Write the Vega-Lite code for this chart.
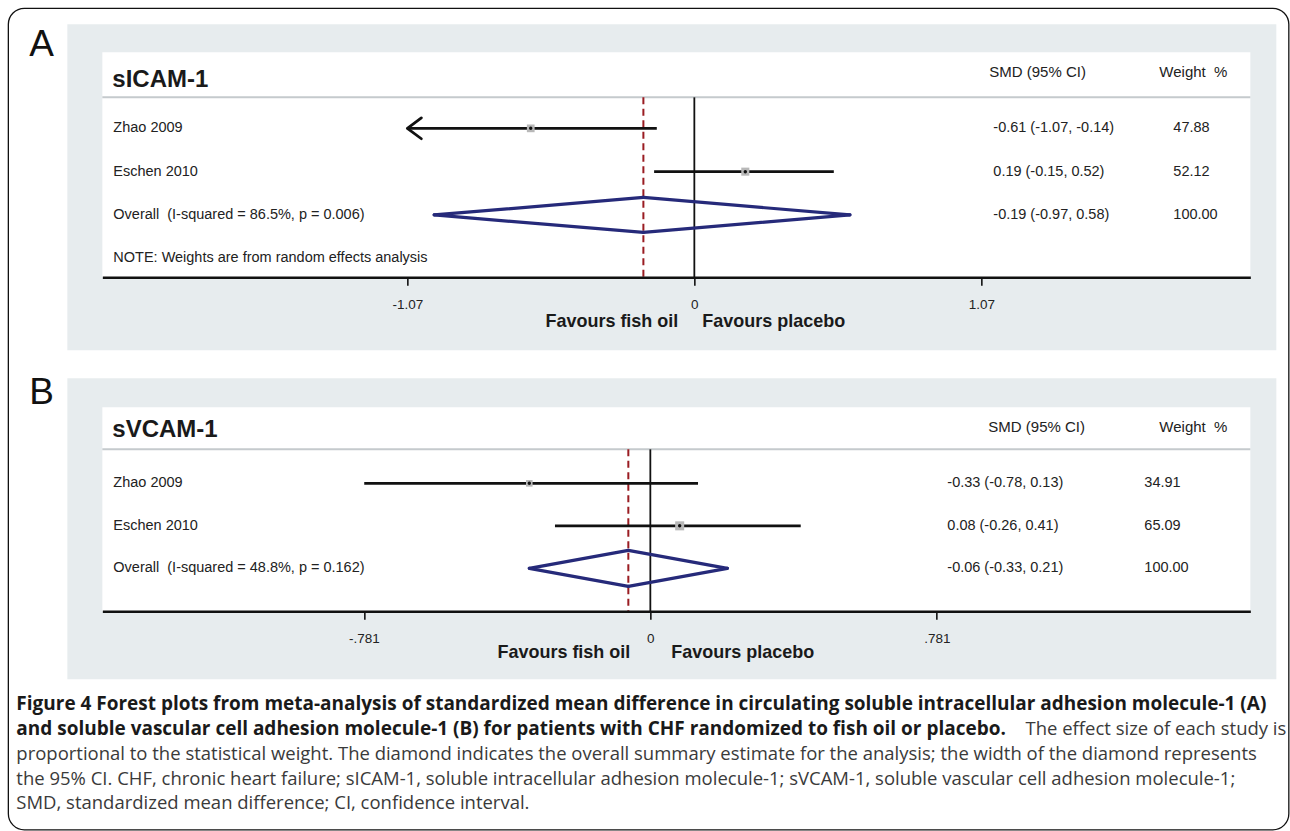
{
  "$schema": "https://vega.github.io/schema/vega-lite/v6.json",
  "background": "white",
  "padding": {"left": 7.35, "top": 7.35, "right": 0, "bottom": 0},
  "autosize": {"type": "pad"},
  "bounds": "flush",
  "spacing": 130,
  "config": {
    "view": {"stroke": null},
    "font": "Liberation Sans",
    "axis": {"labelFontSize": 13.5},
    "axisX": {"grid": false, "domainColor": "#111111", "domainWidth": 2.5, "tickColor": "#111111", "tickWidth": 1.6, "tickSize": 8, "labelFont": "Liberation Sans", "labelFontSize": 13.5, "labelColor": "#222222", "labelPadding": 12, "labelFlush": false, "labelOverlap": false}
  },
  "vconcat": [
    {
      "width": 1148,
      "height": 225,
      "data": {"values": [
        {"study": "Zhao 2009", "row": 1, "smd": -0.61, "lower": -1.07, "upper": -0.14, "weight": 47.88, "ci": "-0.61 (-1.07, -0.14)", "wt": "47.88", "kind": "study"},
        {"study": "Eschen 2010", "row": 2, "smd": 0.19, "lower": -0.15, "upper": 0.52, "weight": 52.12, "ci": "0.19 (-0.15, 0.52)", "wt": "52.12", "kind": "study"},
        {"study": "Overall\u00a0 (I-squared = 86.5%, p = 0.006)", "row": 3, "smd": -0.19, "lower": -0.97, "upper": 0.58, "weight": 100, "ci": "-0.19 (-0.97, 0.58)", "wt": "100.00", "kind": "overall"},
        {"study": "NOTE: Weights are from random effects analysis", "row": 4, "kind": "note"}
      ]},
      "layer": [
        {
          "data": {"values": [{"part": "panel"}]},
          "mark": {"type": "rect", "color": "#e7ecee"},
          "encoding": {
            "x": {"datum": -2.3378, "type": "quantitative", "scale": {"type": "linear", "domain": [-2.2073, 2.0731], "nice": false, "zero": false}, "axis": {"title": null, "values": [-1.07, 0, 1.07], "labelExpr": "datum.value < 0 ? '-1.07' : (datum.value > 0 ? '1.07' : '0')", "zindex": 1, "labelFontSize": 13.5}},
            "x2": {"datum": 2.170},
            "y": {"datum": -1.4018, "type": "quantitative", "scale": {"type": "linear", "domain": [-0.7552, 4.4411], "nice": false, "zero": false, "reverse": true}, "axis": null},
            "y2": {"datum": 6.127}
          }
        },
        {
          "data": {"values": [{"part": "plot"}]},
          "mark": {"type": "rect", "color": "#ffffff"},
          "encoding": {
            "x": {"datum": -2.2073, "type": "quantitative", "scale": {"type": "linear", "domain": [-2.2073, 2.0731], "nice": false, "zero": false}, "axis": {"title": null, "values": [-1.07, 0, 1.07], "labelExpr": "datum.value < 0 ? '-1.07' : (datum.value > 0 ? '1.07' : '0')", "zindex": 1, "labelFontSize": 13.5}},
            "x2": {"datum": 2.0731},
            "y": {"datum": -0.7552, "type": "quantitative", "scale": {"type": "linear", "domain": [-0.7552, 4.4411], "nice": false, "zero": false, "reverse": true}, "axis": null},
            "y2": {"datum": 4.4411}
          }
        },
        {
          "data": {"values": [{"part": "separator"}]},
          "mark": {"type": "rule", "color": "#c5cacd", "strokeWidth": 2},
          "encoding": {
            "x": {"datum": -2.2073, "type": "quantitative", "scale": {"type": "linear", "domain": [-2.2073, 2.0731], "nice": false, "zero": false}, "axis": {"title": null, "values": [-1.07, 0, 1.07], "labelExpr": "datum.value < 0 ? '-1.07' : (datum.value > 0 ? '1.07' : '0')", "zindex": 1, "labelFontSize": 13.5}},
            "x2": {"datum": 2.0731},
            "y": {"datum": 0.2841, "type": "quantitative", "scale": {"type": "linear", "domain": [-0.7552, 4.4411], "nice": false, "zero": false, "reverse": true}, "axis": null}
          }
        },
        {
          "data": {"values": [{"label": "A"}]},
          "mark": {"type": "text", "align": "left", "baseline": "middle", "fontSize": 37, "color": "#111111"},
          "encoding": {
            "x": {"datum": -2.4795, "type": "quantitative", "scale": {"type": "linear", "domain": [-2.2073, 2.0731], "nice": false, "zero": false}, "axis": {"title": null, "values": [-1.07, 0, 1.07], "labelExpr": "datum.value < 0 ? '-1.07' : (datum.value > 0 ? '1.07' : '0')", "zindex": 1, "labelFontSize": 13.5}},
            "y": {"datum": -0.9169, "type": "quantitative", "scale": {"type": "linear", "domain": [-0.7552, 4.4411], "nice": false, "zero": false, "reverse": true}, "axis": null},
            "text": {"field": "label"}
          }
        },
        {
          "data": {"values": [{"label": "sICAM-1"}]},
          "mark": {"type": "text", "align": "left", "baseline": "middle", "fontSize": 24, "fontWeight": "bold", "color": "#1a1a1a"},
          "encoding": {
            "x": {"datum": -2.170, "type": "quantitative", "scale": {"type": "linear", "domain": [-2.2073, 2.0731], "nice": false, "zero": false}, "axis": {"title": null, "values": [-1.07, 0, 1.07], "labelExpr": "datum.value < 0 ? '-1.07' : (datum.value > 0 ? '1.07' : '0')", "zindex": 1, "labelFontSize": 13.5}},
            "y": {"datum": -0.1085, "type": "quantitative", "scale": {"type": "linear", "domain": [-0.7552, 4.4411], "nice": false, "zero": false, "reverse": true}, "axis": null},
            "text": {"field": "label"}
          }
        },
        {
          "data": {"values": [{"label": "SMD (95% CI)"}]},
          "mark": {"type": "text", "align": "left", "baseline": "middle", "fontSize": 15, "color": "#222222"},
          "encoding": {
            "x": {"datum": 1.0999, "type": "quantitative", "scale": {"type": "linear", "domain": [-2.2073, 2.0731], "nice": false, "zero": false}, "axis": {"title": null, "values": [-1.07, 0, 1.07], "labelExpr": "datum.value < 0 ? '-1.07' : (datum.value > 0 ? '1.07' : '0')", "zindex": 1, "labelFontSize": 13.5}},
            "y": {"datum": -0.2933, "type": "quantitative", "scale": {"type": "linear", "domain": [-0.7552, 4.4411], "nice": false, "zero": false, "reverse": true}, "axis": null},
            "text": {"field": "label"}
          }
        },
        {
          "data": {"values": [{"label": "Weight\u00a0 %"}]},
          "mark": {"type": "text", "align": "left", "baseline": "middle", "fontSize": 15, "color": "#222222"},
          "encoding": {
            "x": {"datum": 1.7338, "type": "quantitative", "scale": {"type": "linear", "domain": [-2.2073, 2.0731], "nice": false, "zero": false}, "axis": {"title": null, "values": [-1.07, 0, 1.07], "labelExpr": "datum.value < 0 ? '-1.07' : (datum.value > 0 ? '1.07' : '0')", "zindex": 1, "labelFontSize": 13.5}},
            "y": {"datum": -0.2933, "type": "quantitative", "scale": {"type": "linear", "domain": [-0.7552, 4.4411], "nice": false, "zero": false, "reverse": true}, "axis": null},
            "text": {"field": "label"}
          }
        },
        {
          "data": {"values": [{"part": "null line"}]},
          "mark": {"type": "rule", "color": "#111111", "strokeWidth": 1.8},
          "encoding": {
            "x": {"datum": 0, "type": "quantitative", "scale": {"type": "linear", "domain": [-2.2073, 2.0731], "nice": false, "zero": false}, "axis": {"title": null, "values": [-1.07, 0, 1.07], "labelExpr": "datum.value < 0 ? '-1.07' : (datum.value > 0 ? '1.07' : '0')", "zindex": 1, "labelFontSize": 13.5}},
            "y": {"datum": 0.2841, "type": "quantitative", "scale": {"type": "linear", "domain": [-0.7552, 4.4411], "nice": false, "zero": false, "reverse": true}, "axis": null},
            "y2": {"datum": 4.4411}
          }
        },
        {
          "transform": [{"filter": "datum.kind == 'overall'"}],
          "mark": {"type": "rule", "color": "#9a1c22", "strokeWidth": 2, "strokeDash": [7, 4.5]},
          "encoding": {
            "x": {"field": "smd", "type": "quantitative", "scale": {"type": "linear", "domain": [-2.2073, 2.0731], "nice": false, "zero": false}, "axis": {"title": null, "values": [-1.07, 0, 1.07], "labelExpr": "datum.value < 0 ? '-1.07' : (datum.value > 0 ? '1.07' : '0')", "zindex": 1, "labelFontSize": 13.5}},
            "y": {"datum": 0.2841, "type": "quantitative", "scale": {"type": "linear", "domain": [-0.7552, 4.4411], "nice": false, "zero": false, "reverse": true}, "axis": null},
            "y2": {"datum": 4.4411}
          }
        },
        {
          "transform": [{"filter": "datum.kind == 'study'"}],
          "mark": {"type": "rule", "color": "#111111", "strokeWidth": 2.8},
          "encoding": {
            "x": {"field": "lower", "type": "quantitative", "scale": {"type": "linear", "domain": [-2.2073, 2.0731], "nice": false, "zero": false}, "axis": {"title": null, "values": [-1.07, 0, 1.07], "labelExpr": "datum.value < 0 ? '-1.07' : (datum.value > 0 ? '1.07' : '0')", "zindex": 1, "labelFontSize": 13.5}},
            "x2": {"field": "upper"},
            "y": {"field": "row", "type": "quantitative", "scale": {"type": "linear", "domain": [-0.7552, 4.4411], "nice": false, "zero": false, "reverse": true}, "axis": null}
          }
        },
        {
          "transform": [{"filter": "datum.kind == 'study' && datum.lower <= -1.07"}],
          "mark": {"type": "point", "shape": "M0,0L1.75,-1.3M0,0L1.75,1.3", "size": 256, "filled": false, "color": "#111111", "strokeWidth": 2.8, "strokeCap": "round", "opacity": 1},
          "encoding": {
            "x": {"field": "lower", "type": "quantitative", "scale": {"type": "linear", "domain": [-2.2073, 2.0731], "nice": false, "zero": false}, "axis": {"title": null, "values": [-1.07, 0, 1.07], "labelExpr": "datum.value < 0 ? '-1.07' : (datum.value > 0 ? '1.07' : '0')", "zindex": 1, "labelFontSize": 13.5}},
            "y": {"field": "row", "type": "quantitative", "scale": {"type": "linear", "domain": [-0.7552, 4.4411], "nice": false, "zero": false, "reverse": true}, "axis": null}
          }
        },
        {
          "transform": [{"filter": "datum.kind == 'study'"}],
          "mark": {"type": "point", "shape": "square", "filled": true, "color": "#b8b8b8", "opacity": 1},
          "encoding": {
            "x": {"field": "smd", "type": "quantitative", "scale": {"type": "linear", "domain": [-2.2073, 2.0731], "nice": false, "zero": false}, "axis": {"title": null, "values": [-1.07, 0, 1.07], "labelExpr": "datum.value < 0 ? '-1.07' : (datum.value > 0 ? '1.07' : '0')", "zindex": 1, "labelFontSize": 13.5}},
            "y": {"field": "row", "type": "quantitative", "scale": {"type": "linear", "domain": [-0.7552, 4.4411], "nice": false, "zero": false, "reverse": true}, "axis": null},
            "size": {"field": "weight", "type": "quantitative", "scale": {"domain": [0, 100], "range": [0, 125]}, "legend": null}
          }
        },
        {
          "transform": [{"filter": "datum.kind == 'study'"}],
          "mark": {"type": "point", "shape": "circle", "filled": true, "color": "#111111", "size": 12, "opacity": 1},
          "encoding": {
            "x": {"field": "smd", "type": "quantitative", "scale": {"type": "linear", "domain": [-2.2073, 2.0731], "nice": false, "zero": false}, "axis": {"title": null, "values": [-1.07, 0, 1.07], "labelExpr": "datum.value < 0 ? '-1.07' : (datum.value > 0 ? '1.07' : '0')", "zindex": 1, "labelFontSize": 13.5}},
            "y": {"field": "row", "type": "quantitative", "scale": {"type": "linear", "domain": [-0.7552, 4.4411], "nice": false, "zero": false, "reverse": true}, "axis": null}
          }
        },
        {
          "transform": [{"filter": "datum.kind == 'overall'"}],
          "mark": {"type": "rule", "color": "#262a7a", "strokeWidth": 3.2, "strokeCap": "round", "y2Offset": -17.5},
          "encoding": {
            "x": {"field": "lower", "type": "quantitative", "scale": {"type": "linear", "domain": [-2.2073, 2.0731], "nice": false, "zero": false}, "axis": {"title": null, "values": [-1.07, 0, 1.07], "labelExpr": "datum.value < 0 ? '-1.07' : (datum.value > 0 ? '1.07' : '0')", "zindex": 1, "labelFontSize": 13.5}},
            "x2": {"field": "smd"},
            "y": {"field": "row", "type": "quantitative", "scale": {"type": "linear", "domain": [-0.7552, 4.4411], "nice": false, "zero": false, "reverse": true}, "axis": null},
            "y2": {"field": "row"}
          }
        },
        {
          "transform": [{"filter": "datum.kind == 'overall'"}],
          "mark": {"type": "rule", "color": "#262a7a", "strokeWidth": 3.2, "strokeCap": "round", "yOffset": -17.5},
          "encoding": {
            "x": {"field": "smd", "type": "quantitative", "scale": {"type": "linear", "domain": [-2.2073, 2.0731], "nice": false, "zero": false}, "axis": {"title": null, "values": [-1.07, 0, 1.07], "labelExpr": "datum.value < 0 ? '-1.07' : (datum.value > 0 ? '1.07' : '0')", "zindex": 1, "labelFontSize": 13.5}},
            "x2": {"field": "upper"},
            "y": {"field": "row", "type": "quantitative", "scale": {"type": "linear", "domain": [-0.7552, 4.4411], "nice": false, "zero": false, "reverse": true}, "axis": null},
            "y2": {"field": "row"}
          }
        },
        {
          "transform": [{"filter": "datum.kind == 'overall'"}],
          "mark": {"type": "rule", "color": "#262a7a", "strokeWidth": 3.2, "strokeCap": "round", "y2Offset": 17.5},
          "encoding": {
            "x": {"field": "lower", "type": "quantitative", "scale": {"type": "linear", "domain": [-2.2073, 2.0731], "nice": false, "zero": false}, "axis": {"title": null, "values": [-1.07, 0, 1.07], "labelExpr": "datum.value < 0 ? '-1.07' : (datum.value > 0 ? '1.07' : '0')", "zindex": 1, "labelFontSize": 13.5}},
            "x2": {"field": "smd"},
            "y": {"field": "row", "type": "quantitative", "scale": {"type": "linear", "domain": [-0.7552, 4.4411], "nice": false, "zero": false, "reverse": true}, "axis": null},
            "y2": {"field": "row"}
          }
        },
        {
          "transform": [{"filter": "datum.kind == 'overall'"}],
          "mark": {"type": "rule", "color": "#262a7a", "strokeWidth": 3.2, "strokeCap": "round", "yOffset": 17.5},
          "encoding": {
            "x": {"field": "smd", "type": "quantitative", "scale": {"type": "linear", "domain": [-2.2073, 2.0731], "nice": false, "zero": false}, "axis": {"title": null, "values": [-1.07, 0, 1.07], "labelExpr": "datum.value < 0 ? '-1.07' : (datum.value > 0 ? '1.07' : '0')", "zindex": 1, "labelFontSize": 13.5}},
            "x2": {"field": "upper"},
            "y": {"field": "row", "type": "quantitative", "scale": {"type": "linear", "domain": [-0.7552, 4.4411], "nice": false, "zero": false, "reverse": true}, "axis": null},
            "y2": {"field": "row"}
          }
        },
        {
          "mark": {"type": "text", "align": "left", "baseline": "middle", "fontSize": 14.5, "color": "#222222"},
          "encoding": {
            "x": {"datum": -2.1663, "type": "quantitative", "scale": {"type": "linear", "domain": [-2.2073, 2.0731], "nice": false, "zero": false}, "axis": {"title": null, "values": [-1.07, 0, 1.07], "labelExpr": "datum.value < 0 ? '-1.07' : (datum.value > 0 ? '1.07' : '0')", "zindex": 1, "labelFontSize": 13.5}},
            "y": {"field": "row", "type": "quantitative", "scale": {"type": "linear", "domain": [-0.7552, 4.4411], "nice": false, "zero": false, "reverse": true}, "axis": null},
            "text": {"field": "study"}
          }
        },
        {
          "transform": [{"filter": "datum.kind != 'note'"}],
          "mark": {"type": "text", "align": "left", "baseline": "middle", "fontSize": 14.5, "color": "#222222"},
          "encoding": {
            "x": {"datum": 1.1148, "type": "quantitative", "scale": {"type": "linear", "domain": [-2.2073, 2.0731], "nice": false, "zero": false}, "axis": {"title": null, "values": [-1.07, 0, 1.07], "labelExpr": "datum.value < 0 ? '-1.07' : (datum.value > 0 ? '1.07' : '0')", "zindex": 1, "labelFontSize": 13.5}},
            "y": {"field": "row", "type": "quantitative", "scale": {"type": "linear", "domain": [-0.7552, 4.4411], "nice": false, "zero": false, "reverse": true}, "axis": null},
            "text": {"field": "ci"}
          }
        },
        {
          "transform": [{"filter": "datum.kind != 'note'"}],
          "mark": {"type": "text", "align": "left", "baseline": "middle", "fontSize": 14.5, "color": "#222222"},
          "encoding": {
            "x": {"datum": 1.786, "type": "quantitative", "scale": {"type": "linear", "domain": [-2.2073, 2.0731], "nice": false, "zero": false}, "axis": {"title": null, "values": [-1.07, 0, 1.07], "labelExpr": "datum.value < 0 ? '-1.07' : (datum.value > 0 ? '1.07' : '0')", "zindex": 1, "labelFontSize": 13.5}},
            "y": {"field": "row", "type": "quantitative", "scale": {"type": "linear", "domain": [-0.7552, 4.4411], "nice": false, "zero": false, "reverse": true}, "axis": null},
            "text": {"field": "wt"}
          }
        },
        {
          "data": {"values": [{"label": "Favours fish oil"}]},
          "mark": {"type": "text", "align": "right", "baseline": "middle", "fontSize": 18, "fontWeight": "bold", "color": "#1a1a1a", "dx": -16},
          "encoding": {
            "x": {"datum": 0, "type": "quantitative", "scale": {"type": "linear", "domain": [-2.2073, 2.0731], "nice": false, "zero": false}, "axis": {"title": null, "values": [-1.07, 0, 1.07], "labelExpr": "datum.value < 0 ? '-1.07' : (datum.value > 0 ? '1.07' : '0')", "zindex": 1, "labelFontSize": 13.5}},
            "y": {"datum": 5.4804, "type": "quantitative", "scale": {"type": "linear", "domain": [-0.7552, 4.4411], "nice": false, "zero": false, "reverse": true}, "axis": null},
            "text": {"field": "label"}
          }
        },
        {
          "data": {"values": [{"label": "Favours placebo"}]},
          "mark": {"type": "text", "align": "left", "baseline": "middle", "fontSize": 18, "fontWeight": "bold", "color": "#1a1a1a", "dx": 8},
          "encoding": {
            "x": {"datum": 0, "type": "quantitative", "scale": {"type": "linear", "domain": [-2.2073, 2.0731], "nice": false, "zero": false}, "axis": {"title": null, "values": [-1.07, 0, 1.07], "labelExpr": "datum.value < 0 ? '-1.07' : (datum.value > 0 ? '1.07' : '0')", "zindex": 1, "labelFontSize": 13.5}},
            "y": {"datum": 5.4804, "type": "quantitative", "scale": {"type": "linear", "domain": [-0.7552, 4.4411], "nice": false, "zero": false, "reverse": true}, "axis": null},
            "text": {"field": "label"}
          }
        },
        {
          "data": {"values": [{"part": "frame"}]},
          "mark": {"type": "rect", "filled": false, "color": "#111111", "strokeWidth": 1.3, "cornerRadius": 16},
          "encoding": {
            "x": {"datum": -2.5578, "type": "quantitative", "scale": {"type": "linear", "domain": [-2.2073, 2.0731], "nice": false, "zero": false}, "axis": {"title": null, "values": [-1.07, 0, 1.07], "labelExpr": "datum.value < 0 ? '-1.07' : (datum.value > 0 ? '1.07' : '0')", "zindex": 1, "labelFontSize": 13.5}},
            "x2": {"datum": 2.2166},
            "y": {"datum": -1.7714, "type": "quantitative", "scale": {"type": "linear", "domain": [-0.7552, 4.4411], "nice": false, "zero": false, "reverse": true}, "axis": null},
            "y2": {"datum": 17.2009}
          }
        }
      ]
    },
    {
      "width": 1148,
      "height": 204,
      "data": {"values": [
        {"study": "Zhao 2009", "row": 1, "smd": -0.33, "lower": -0.78, "upper": 0.13, "weight": 34.91, "ci": "-0.33 (-0.78, 0.13)", "wt": "34.91", "kind": "study"},
        {"study": "Eschen 2010", "row": 2, "smd": 0.08, "lower": -0.26, "upper": 0.41, "weight": 65.09, "ci": "0.08 (-0.26, 0.41)", "wt": "65.09", "kind": "study"},
        {"study": "Overall\u00a0 (I-squared = 48.8%, p = 0.162)", "row": 3, "smd": -0.06, "lower": -0.33, "upper": 0.21, "weight": 100, "ci": "-0.06 (-0.33, 0.21)", "wt": "100.00", "kind": "overall"}
      ]},
      "layer": [
        {
          "data": {"values": [{"part": "panel"}]},
          "mark": {"type": "rect", "color": "#e7ecee"},
          "encoding": {
            "x": {"datum": -1.5894, "type": "quantitative", "scale": {"type": "linear", "domain": [-1.494, 1.6358], "nice": false, "zero": false}, "axis": {"title": null, "values": [-0.781, 0, 0.781], "labelExpr": "datum.value < 0 ? '-.781' : (datum.value > 0 ? '.781' : '0')", "zindex": 1, "labelFontSize": 13.5}},
            "x2": {"datum": 1.7067},
            "y": {"datum": -1.4706, "type": "quantitative", "scale": {"type": "linear", "domain": [-0.788, 4.012], "nice": false, "zero": false, "reverse": true}, "axis": null},
            "y2": {"datum": 5.6118}
          }
        },
        {
          "data": {"values": [{"part": "plot"}]},
          "mark": {"type": "rect", "color": "#ffffff"},
          "encoding": {
            "x": {"datum": -1.494, "type": "quantitative", "scale": {"type": "linear", "domain": [-1.494, 1.6358], "nice": false, "zero": false}, "axis": {"title": null, "values": [-0.781, 0, 0.781], "labelExpr": "datum.value < 0 ? '-.781' : (datum.value > 0 ? '.781' : '0')", "zindex": 1, "labelFontSize": 13.5}},
            "x2": {"datum": 1.6358},
            "y": {"datum": -0.788, "type": "quantitative", "scale": {"type": "linear", "domain": [-0.788, 4.012], "nice": false, "zero": false, "reverse": true}, "axis": null},
            "y2": {"datum": 4.012}
          }
        },
        {
          "data": {"values": [{"part": "separator"}]},
          "mark": {"type": "rule", "color": "#c5cacd", "strokeWidth": 2},
          "encoding": {
            "x": {"datum": -1.494, "type": "quantitative", "scale": {"type": "linear", "domain": [-1.494, 1.6358], "nice": false, "zero": false}, "axis": {"title": null, "values": [-0.781, 0, 0.781], "labelExpr": "datum.value < 0 ? '-.781' : (datum.value > 0 ? '.781' : '0')", "zindex": 1, "labelFontSize": 13.5}},
            "x2": {"datum": 1.6358},
            "y": {"datum": 0.2, "type": "quantitative", "scale": {"type": "linear", "domain": [-0.788, 4.012], "nice": false, "zero": false, "reverse": true}, "axis": null}
          }
        },
        {
          "data": {"values": [{"label": "B"}]},
          "mark": {"type": "text", "align": "left", "baseline": "middle", "fontSize": 37, "color": "#111111"},
          "encoding": {
            "x": {"datum": -1.693, "type": "quantitative", "scale": {"type": "linear", "domain": [-1.494, 1.6358], "nice": false, "zero": false}, "axis": {"title": null, "values": [-0.781, 0, 0.781], "labelExpr": "datum.value < 0 ? '-.781' : (datum.value > 0 ? '.781' : '0')", "zindex": 1, "labelFontSize": 13.5}},
            "y": {"datum": -1.1176, "type": "quantitative", "scale": {"type": "linear", "domain": [-0.788, 4.012], "nice": false, "zero": false, "reverse": true}, "axis": null},
            "text": {"field": "label"}
          }
        },
        {
          "data": {"values": [{"label": "sVCAM-1"}]},
          "mark": {"type": "text", "align": "left", "baseline": "middle", "fontSize": 24, "fontWeight": "bold", "color": "#1a1a1a"},
          "encoding": {
            "x": {"datum": -1.4667, "type": "quantitative", "scale": {"type": "linear", "domain": [-1.494, 1.6358], "nice": false, "zero": false}, "axis": {"title": null, "values": [-0.781, 0, 0.781], "labelExpr": "datum.value < 0 ? '-.781' : (datum.value > 0 ? '.781' : '0')", "zindex": 1, "labelFontSize": 13.5}},
            "y": {"datum": -0.2471, "type": "quantitative", "scale": {"type": "linear", "domain": [-0.788, 4.012], "nice": false, "zero": false, "reverse": true}, "axis": null},
            "text": {"field": "label"}
          }
        },
        {
          "data": {"values": [{"label": "SMD (95% CI)"}]},
          "mark": {"type": "text", "align": "left", "baseline": "middle", "fontSize": 15, "color": "#222222"},
          "encoding": {
            "x": {"datum": 0.9215, "type": "quantitative", "scale": {"type": "linear", "domain": [-1.494, 1.6358], "nice": false, "zero": false}, "axis": {"title": null, "values": [-0.781, 0, 0.781], "labelExpr": "datum.value < 0 ? '-.781' : (datum.value > 0 ? '.781' : '0')", "zindex": 1, "labelFontSize": 13.5}},
            "y": {"datum": -0.3176, "type": "quantitative", "scale": {"type": "linear", "domain": [-0.788, 4.012], "nice": false, "zero": false, "reverse": true}, "axis": null},
            "text": {"field": "label"}
          }
        },
        {
          "data": {"values": [{"label": "Weight\u00a0 %"}]},
          "mark": {"type": "text", "align": "left", "baseline": "middle", "fontSize": 15, "color": "#222222"},
          "encoding": {
            "x": {"datum": 1.3877, "type": "quantitative", "scale": {"type": "linear", "domain": [-1.494, 1.6358], "nice": false, "zero": false}, "axis": {"title": null, "values": [-0.781, 0, 0.781], "labelExpr": "datum.value < 0 ? '-.781' : (datum.value > 0 ? '.781' : '0')", "zindex": 1, "labelFontSize": 13.5}},
            "y": {"datum": -0.3176, "type": "quantitative", "scale": {"type": "linear", "domain": [-0.788, 4.012], "nice": false, "zero": false, "reverse": true}, "axis": null},
            "text": {"field": "label"}
          }
        },
        {
          "data": {"values": [{"part": "null line"}]},
          "mark": {"type": "rule", "color": "#111111", "strokeWidth": 1.8},
          "encoding": {
            "x": {"datum": 0, "type": "quantitative", "scale": {"type": "linear", "domain": [-1.494, 1.6358], "nice": false, "zero": false}, "axis": {"title": null, "values": [-0.781, 0, 0.781], "labelExpr": "datum.value < 0 ? '-.781' : (datum.value > 0 ? '.781' : '0')", "zindex": 1, "labelFontSize": 13.5}},
            "y": {"datum": 0.2, "type": "quantitative", "scale": {"type": "linear", "domain": [-0.788, 4.012], "nice": false, "zero": false, "reverse": true}, "axis": null},
            "y2": {"datum": 4.012}
          }
        },
        {
          "transform": [{"filter": "datum.kind == 'overall'"}],
          "mark": {"type": "rule", "color": "#9a1c22", "strokeWidth": 2, "strokeDash": [7, 4.5]},
          "encoding": {
            "x": {"field": "smd", "type": "quantitative", "scale": {"type": "linear", "domain": [-1.494, 1.6358], "nice": false, "zero": false}, "axis": {"title": null, "values": [-0.781, 0, 0.781], "labelExpr": "datum.value < 0 ? '-.781' : (datum.value > 0 ? '.781' : '0')", "zindex": 1, "labelFontSize": 13.5}},
            "y": {"datum": 0.2, "type": "quantitative", "scale": {"type": "linear", "domain": [-0.788, 4.012], "nice": false, "zero": false, "reverse": true}, "axis": null},
            "y2": {"datum": 4.012}
          }
        },
        {
          "transform": [{"filter": "datum.kind == 'study'"}],
          "mark": {"type": "rule", "color": "#111111", "strokeWidth": 2.8},
          "encoding": {
            "x": {"field": "lower", "type": "quantitative", "scale": {"type": "linear", "domain": [-1.494, 1.6358], "nice": false, "zero": false}, "axis": {"title": null, "values": [-0.781, 0, 0.781], "labelExpr": "datum.value < 0 ? '-.781' : (datum.value > 0 ? '.781' : '0')", "zindex": 1, "labelFontSize": 13.5}},
            "x2": {"field": "upper"},
            "y": {"field": "row", "type": "quantitative", "scale": {"type": "linear", "domain": [-0.788, 4.012], "nice": false, "zero": false, "reverse": true}, "axis": null}
          }
        },
        {
          "transform": [{"filter": "datum.kind == 'study'"}],
          "mark": {"type": "point", "shape": "square", "filled": true, "color": "#b8b8b8", "opacity": 1},
          "encoding": {
            "x": {"field": "smd", "type": "quantitative", "scale": {"type": "linear", "domain": [-1.494, 1.6358], "nice": false, "zero": false}, "axis": {"title": null, "values": [-0.781, 0, 0.781], "labelExpr": "datum.value < 0 ? '-.781' : (datum.value > 0 ? '.781' : '0')", "zindex": 1, "labelFontSize": 13.5}},
            "y": {"field": "row", "type": "quantitative", "scale": {"type": "linear", "domain": [-0.788, 4.012], "nice": false, "zero": false, "reverse": true}, "axis": null},
            "size": {"field": "weight", "type": "quantitative", "scale": {"domain": [0, 100], "range": [0, 190]}, "legend": null}
          }
        },
        {
          "transform": [{"filter": "datum.kind == 'study'"}],
          "mark": {"type": "point", "shape": "circle", "filled": true, "color": "#111111", "size": 12, "opacity": 1},
          "encoding": {
            "x": {"field": "smd", "type": "quantitative", "scale": {"type": "linear", "domain": [-1.494, 1.6358], "nice": false, "zero": false}, "axis": {"title": null, "values": [-0.781, 0, 0.781], "labelExpr": "datum.value < 0 ? '-.781' : (datum.value > 0 ? '.781' : '0')", "zindex": 1, "labelFontSize": 13.5}},
            "y": {"field": "row", "type": "quantitative", "scale": {"type": "linear", "domain": [-0.788, 4.012], "nice": false, "zero": false, "reverse": true}, "axis": null}
          }
        },
        {
          "transform": [{"filter": "datum.kind == 'overall'"}],
          "mark": {"type": "rule", "color": "#262a7a", "strokeWidth": 3.2, "strokeCap": "round", "y2Offset": -18},
          "encoding": {
            "x": {"field": "lower", "type": "quantitative", "scale": {"type": "linear", "domain": [-1.494, 1.6358], "nice": false, "zero": false}, "axis": {"title": null, "values": [-0.781, 0, 0.781], "labelExpr": "datum.value < 0 ? '-.781' : (datum.value > 0 ? '.781' : '0')", "zindex": 1, "labelFontSize": 13.5}},
            "x2": {"field": "smd"},
            "y": {"field": "row", "type": "quantitative", "scale": {"type": "linear", "domain": [-0.788, 4.012], "nice": false, "zero": false, "reverse": true}, "axis": null},
            "y2": {"field": "row"}
          }
        },
        {
          "transform": [{"filter": "datum.kind == 'overall'"}],
          "mark": {"type": "rule", "color": "#262a7a", "strokeWidth": 3.2, "strokeCap": "round", "yOffset": -18},
          "encoding": {
            "x": {"field": "smd", "type": "quantitative", "scale": {"type": "linear", "domain": [-1.494, 1.6358], "nice": false, "zero": false}, "axis": {"title": null, "values": [-0.781, 0, 0.781], "labelExpr": "datum.value < 0 ? '-.781' : (datum.value > 0 ? '.781' : '0')", "zindex": 1, "labelFontSize": 13.5}},
            "x2": {"field": "upper"},
            "y": {"field": "row", "type": "quantitative", "scale": {"type": "linear", "domain": [-0.788, 4.012], "nice": false, "zero": false, "reverse": true}, "axis": null},
            "y2": {"field": "row"}
          }
        },
        {
          "transform": [{"filter": "datum.kind == 'overall'"}],
          "mark": {"type": "rule", "color": "#262a7a", "strokeWidth": 3.2, "strokeCap": "round", "y2Offset": 18},
          "encoding": {
            "x": {"field": "lower", "type": "quantitative", "scale": {"type": "linear", "domain": [-1.494, 1.6358], "nice": false, "zero": false}, "axis": {"title": null, "values": [-0.781, 0, 0.781], "labelExpr": "datum.value < 0 ? '-.781' : (datum.value > 0 ? '.781' : '0')", "zindex": 1, "labelFontSize": 13.5}},
            "x2": {"field": "smd"},
            "y": {"field": "row", "type": "quantitative", "scale": {"type": "linear", "domain": [-0.788, 4.012], "nice": false, "zero": false, "reverse": true}, "axis": null},
            "y2": {"field": "row"}
          }
        },
        {
          "transform": [{"filter": "datum.kind == 'overall'"}],
          "mark": {"type": "rule", "color": "#262a7a", "strokeWidth": 3.2, "strokeCap": "round", "yOffset": 18},
          "encoding": {
            "x": {"field": "smd", "type": "quantitative", "scale": {"type": "linear", "domain": [-1.494, 1.6358], "nice": false, "zero": false}, "axis": {"title": null, "values": [-0.781, 0, 0.781], "labelExpr": "datum.value < 0 ? '-.781' : (datum.value > 0 ? '.781' : '0')", "zindex": 1, "labelFontSize": 13.5}},
            "x2": {"field": "upper"},
            "y": {"field": "row", "type": "quantitative", "scale": {"type": "linear", "domain": [-0.788, 4.012], "nice": false, "zero": false, "reverse": true}, "axis": null},
            "y2": {"field": "row"}
          }
        },
        {
          "mark": {"type": "text", "align": "left", "baseline": "middle", "fontSize": 14.5, "color": "#222222"},
          "encoding": {
            "x": {"datum": -1.464, "type": "quantitative", "scale": {"type": "linear", "domain": [-1.494, 1.6358], "nice": false, "zero": false}, "axis": {"title": null, "values": [-0.781, 0, 0.781], "labelExpr": "datum.value < 0 ? '-.781' : (datum.value > 0 ? '.781' : '0')", "zindex": 1, "labelFontSize": 13.5}},
            "y": {"field": "row", "type": "quantitative", "scale": {"type": "linear", "domain": [-0.788, 4.012], "nice": false, "zero": false, "reverse": true}, "axis": null},
            "text": {"field": "study"}
          }
        },
        {
          "mark": {"type": "text", "align": "left", "baseline": "middle", "fontSize": 14.5, "color": "#222222"},
          "encoding": {
            "x": {"datum": 0.8097, "type": "quantitative", "scale": {"type": "linear", "domain": [-1.494, 1.6358], "nice": false, "zero": false}, "axis": {"title": null, "values": [-0.781, 0, 0.781], "labelExpr": "datum.value < 0 ? '-.781' : (datum.value > 0 ? '.781' : '0')", "zindex": 1, "labelFontSize": 13.5}},
            "y": {"field": "row", "type": "quantitative", "scale": {"type": "linear", "domain": [-0.788, 4.012], "nice": false, "zero": false, "reverse": true}, "axis": null},
            "text": {"field": "ci"}
          }
        },
        {
          "mark": {"type": "text", "align": "left", "baseline": "middle", "fontSize": 14.5, "color": "#222222"},
          "encoding": {
            "x": {"datum": 1.3468, "type": "quantitative", "scale": {"type": "linear", "domain": [-1.494, 1.6358], "nice": false, "zero": false}, "axis": {"title": null, "values": [-0.781, 0, 0.781], "labelExpr": "datum.value < 0 ? '-.781' : (datum.value > 0 ? '.781' : '0')", "zindex": 1, "labelFontSize": 13.5}},
            "y": {"field": "row", "type": "quantitative", "scale": {"type": "linear", "domain": [-0.788, 4.012], "nice": false, "zero": false, "reverse": true}, "axis": null},
            "text": {"field": "wt"}
          }
        },
        {
          "data": {"values": [{"label": "Favours fish oil"}]},
          "mark": {"type": "text", "align": "right", "baseline": "middle", "fontSize": 18, "fontWeight": "bold", "color": "#1a1a1a", "dx": -20},
          "encoding": {
            "x": {"datum": 0, "type": "quantitative", "scale": {"type": "linear", "domain": [-1.494, 1.6358], "nice": false, "zero": false}, "axis": {"title": null, "values": [-0.781, 0, 0.781], "labelExpr": "datum.value < 0 ? '-.781' : (datum.value > 0 ? '.781' : '0')", "zindex": 1, "labelFontSize": 13.5}},
            "y": {"datum": 5.0, "type": "quantitative", "scale": {"type": "linear", "domain": [-0.788, 4.012], "nice": false, "zero": false, "reverse": true}, "axis": null},
            "text": {"field": "label"}
          }
        },
        {
          "data": {"values": [{"label": "Favours placebo"}]},
          "mark": {"type": "text", "align": "left", "baseline": "middle", "fontSize": 18, "fontWeight": "bold", "color": "#1a1a1a", "dx": 21},
          "encoding": {
            "x": {"datum": 0, "type": "quantitative", "scale": {"type": "linear", "domain": [-1.494, 1.6358], "nice": false, "zero": false}, "axis": {"title": null, "values": [-0.781, 0, 0.781], "labelExpr": "datum.value < 0 ? '-.781' : (datum.value > 0 ? '.781' : '0')", "zindex": 1, "labelFontSize": 13.5}},
            "y": {"datum": 5.0, "type": "quantitative", "scale": {"type": "linear", "domain": [-0.788, 4.012], "nice": false, "zero": false, "reverse": true}, "axis": null},
            "text": {"field": "label"}
          }
        }
      ]
    },
    {
      "width": 1148,
      "height": 61,
      "data": {"values": [
        {"line": 1, "part": "title", "text": "Figure 4 Forest plots from meta-analysis of standardized mean difference in circulating soluble intracellular adhesion molecule-1 (A)"},
        {"line": 2, "part": "title", "text": "and soluble vascular cell adhesion molecule-1 (B) for patients with CHF randomized to fish oil or placebo."},
        {"line": 2, "part": "body", "text": "The effect size of each study is"},
        {"line": 3, "part": "body", "text": "proportional to the statistical weight. The diamond indicates the overall summary estimate for the analysis; the width of the diamond represents"},
        {"line": 4, "part": "body", "text": "the 95% CI. CHF, chronic heart failure; sICAM-1, soluble intracellular adhesion molecule-1; sVCAM-1, soluble vascular cell adhesion molecule-1;"},
        {"line": 5, "part": "body", "text": "SMD, standardized mean difference; CI, confidence interval."}
      ]},
      "layer": [
        {
          "transform": [{"filter": "datum.part == 'title'"}],
          "mark": {"type": "text", "align": "left", "baseline": "middle", "font": "Open Sans", "fontSize": 19, "fontWeight": "bold", "color": "#1a1a1a"},
          "encoding": {
            "x": {"datum": 0, "type": "quantitative", "scale": {"type": "linear", "domain": [0, 1], "range": [-86, 1184], "nice": false, "zero": false}, "axis": null},
            "y": {"field": "line", "type": "quantitative", "scale": {"type": "linear", "domain": [1, 5], "range": [-37, 62], "nice": false, "zero": false}, "axis": null},
            "text": {"field": "text"}
          }
        },
        {
          "transform": [{"filter": "datum.part == 'body' && datum.line == 2"}],
          "mark": {"type": "text", "align": "right", "baseline": "middle", "font": "Open Sans", "fontSize": 18.5, "color": "#3a3a3a"},
          "encoding": {
            "x": {"datum": 1, "type": "quantitative", "scale": {"type": "linear", "domain": [0, 1], "range": [-86, 1184], "nice": false, "zero": false}, "axis": null},
            "y": {"field": "line", "type": "quantitative", "scale": {"type": "linear", "domain": [1, 5], "range": [-37, 62], "nice": false, "zero": false}, "axis": null},
            "text": {"field": "text"}
          }
        },
        {
          "transform": [{"filter": "datum.part == 'body' && datum.line != 2"}],
          "mark": {"type": "text", "align": "left", "baseline": "middle", "font": "Open Sans", "fontSize": 18.5, "color": "#3a3a3a"},
          "encoding": {
            "x": {"datum": 0, "type": "quantitative", "scale": {"type": "linear", "domain": [0, 1], "range": [-86, 1184], "nice": false, "zero": false}, "axis": null},
            "y": {"field": "line", "type": "quantitative", "scale": {"type": "linear", "domain": [1, 5], "range": [-37, 62], "nice": false, "zero": false}, "axis": null},
            "text": {"field": "text"}
          }
        }
      ]
    }
  ]
}
